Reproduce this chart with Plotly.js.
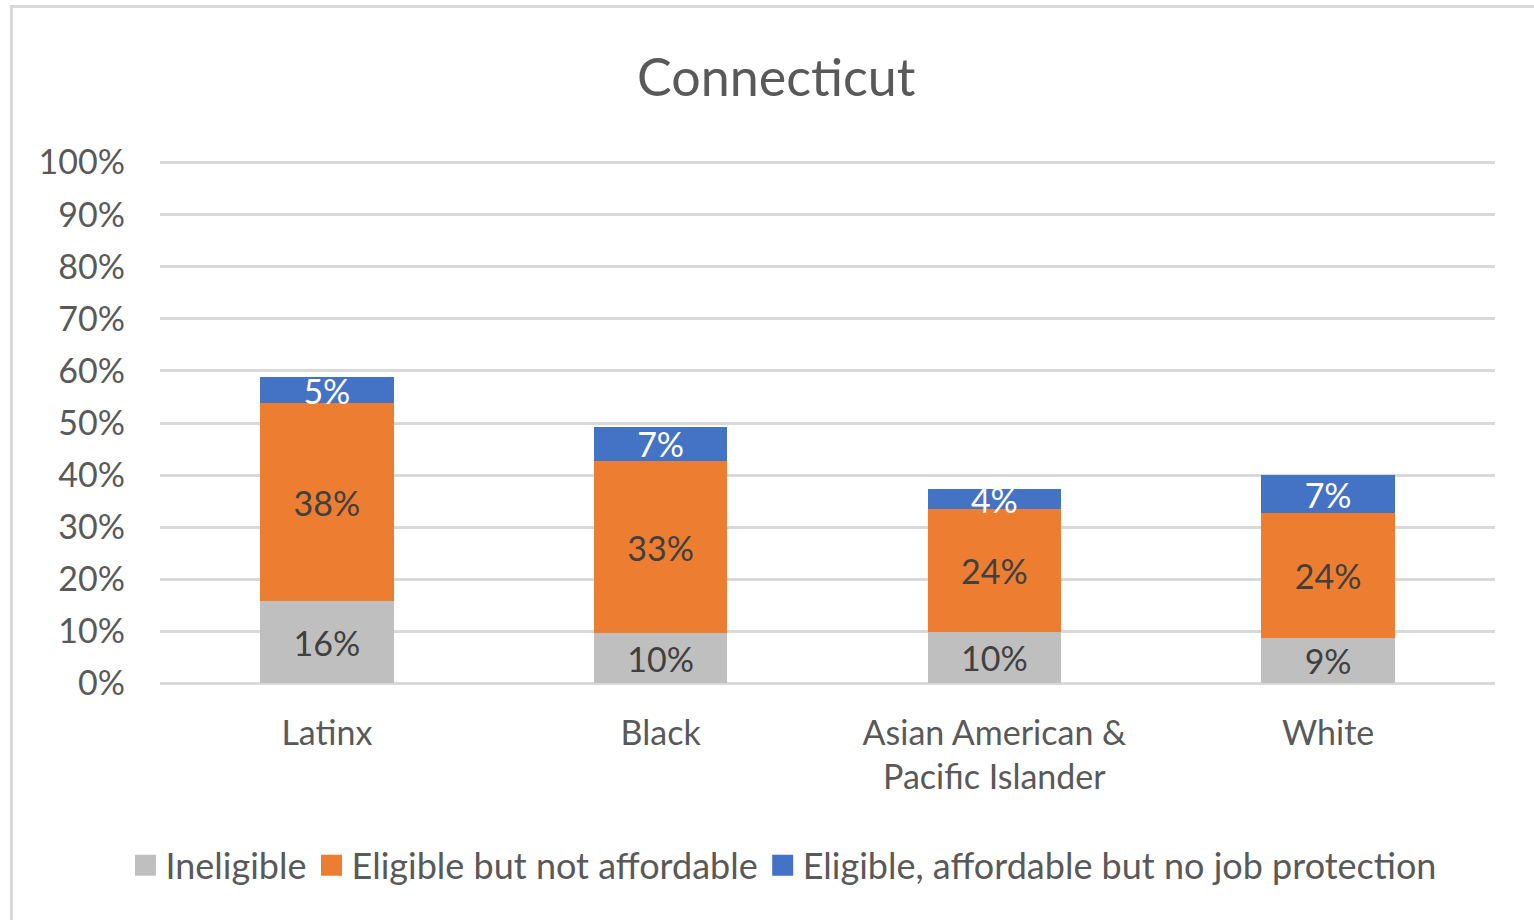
<!DOCTYPE html>
<html>
<head>
<meta charset="utf-8">
<script src="https://cdn.plot.ly/plotly-3.0.1.min.js"></script>
<style>
html,body{margin:0;padding:0;background:#fff;}
#chart{width:1534px;height:920px;}
#frame{position:absolute;left:10px;top:5px;width:1600px;height:1000px;border:3px solid #d9d9d9;pointer-events:none;}
</style>
</head>
<body>
<div id="chart"></div>
<div id="frame"></div>
<script>
const categories = ["Latinx", "Black", "Asian American &<br>Pacific Islander", "White"];
const ineligible = [0.158, 0.096, 0.098, 0.087];
const notAffordable = [0.380, 0.331, 0.237, 0.240];
const noJobProtection = [0.050, 0.066, 0.038, 0.073];
const seriesNames = ["Ineligible", "Eligible but not affordable", "Eligible, affordable but no job protection"];
const seriesColors = ['#bfbfbf', '#ed7d31', '#4472c4'];
const yTickVals = [0,0.1,0.2,0.3,0.4,0.5,0.6,0.7,0.8,0.9,1.0];
const yTickText = ["0%","10%","20%","30%","40%","50%","60%","70%","80%","90%","100%"];

const font = "Lato, 'Open Sans', sans-serif";
function mk(name, vals, color, textColor){
  return {
    type:'bar', name:name, x:categories, y:vals, legendgroup:name, showlegend:false,
    marker:{color:color},
    texttemplate:'%{y:.0%}', textposition:'inside', insidetextanchor:'middle',
    constraintext:'none', cliponaxis:false,
    textfont:{family:font, size:34, color:textColor},
    hoverinfo:'skip'
  };
}
function legendProxy(name, color){
  return {type:'scatter', mode:'markers', name:name, legendgroup:name, x:[null], y:[null],
          marker:{symbol:'square', size:16, color:color, line:{width:5, color:color}}, hoverinfo:'skip'};
}
const data = [
  mk(seriesNames[0], ineligible, seriesColors[0], '#404040'),
  mk(seriesNames[1], notAffordable, seriesColors[1], '#404040'),
  mk(seriesNames[2], noJobProtection, seriesColors[2], '#ffffff'),
  legendProxy(seriesNames[0], seriesColors[0]),
  legendProxy(seriesNames[1], seriesColors[1]),
  legendProxy(seriesNames[2], seriesColors[2])
];
const layout = {
  width:1534, height:920,
  margin:{l:160, r:39, t:161.4, b:235.4},
  paper_bgcolor:'#fff', plot_bgcolor:'#fff',
  barmode:'stack', bargap:0.6,
  font:{family:font, color:'#595959', size:34},
  title:{text:'Connecticut', font:{family:font, size:52, color:'#595959'},
         xref:'container', x:0.506, xanchor:'center', yref:'container', y:0.915, yanchor:'middle'},
  xaxis:{showgrid:false, zeroline:false, showline:false, ticks:'', ticklabelstandoff:25,
         tickfont:{family:font, size:34, color:'#595959'}},
  yaxis:{range:[-0.003,1.003], tickvals:yTickVals, ticktext:yTickText, showgrid:true,
         gridcolor:'#d9d9d9', gridwidth:3, zeroline:false, showline:false, ticks:'',
         ticklabelstandoff:34, tickfont:{family:font, size:34, color:'#595959'}},
  showlegend:true,
  legend:{orientation:'h', x:0.467, xanchor:'center', y:-0.344, yanchor:'middle',
          itemwidth:30, tracegroupgap:0,
          font:{family:font, size:36, color:'#595959'}, traceorder:'normal'}
};
Plotly.newPlot('chart', data, layout, {displayModeBar:false, staticPlot:true});
</script>
</body>
</html>
